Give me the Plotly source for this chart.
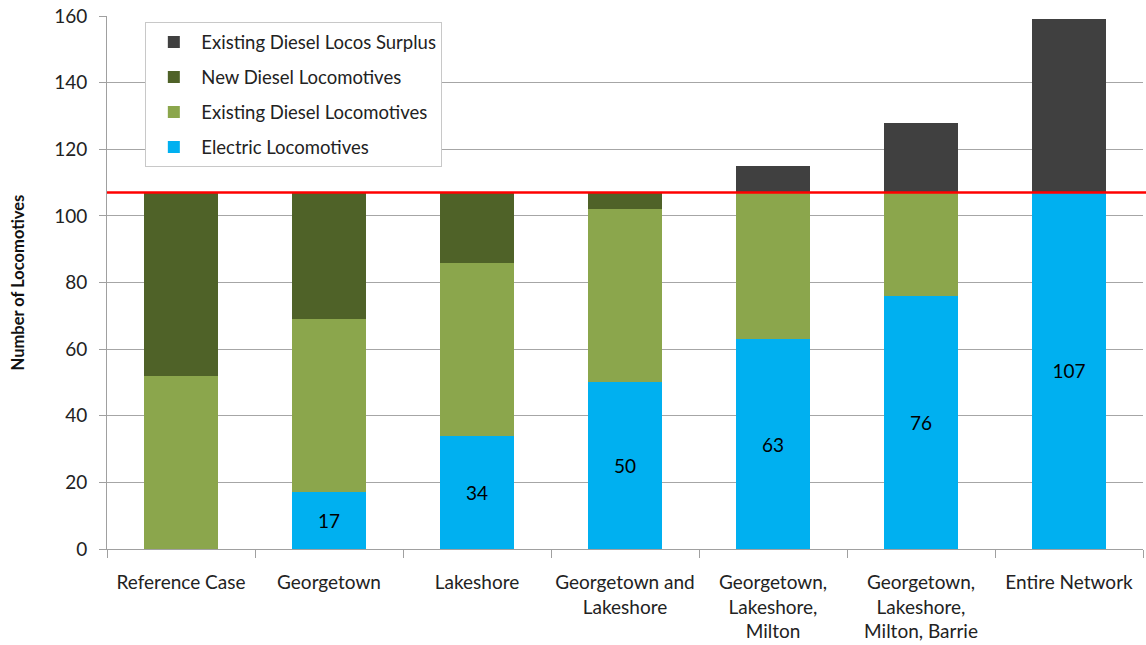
import plotly.graph_objects as go

categories = ["Reference Case", "Georgetown", "Lakeshore", "Georgetown and<br>Lakeshore",
              "Georgetown,<br>Lakeshore,<br>Milton", "Georgetown,<br>Lakeshore,<br>Milton, Barrie",
              "Entire Network"]
electric = [0, 17, 34, 50, 63, 76, 107]
existing_diesel = [52, 52, 52, 52, 44, 31, 0]
new_diesel = [55, 38, 21, 5, 0, 0, 0]
surplus = [0, 0, 0, 0, 8, 21, 52]
fleet_requirement = 107
y_ticks = [0, 20, 40, 60, 80, 100, 120, 140, 160]

FONT = "Lato"
fig = go.Figure()
series = [
    ("Electric Locomotives", electric, "#00B0F0", 4),
    ("Existing Diesel Locomotives", existing_diesel, "#8BA64C", 3),
    ("New Diesel Locomotives", new_diesel, "#4F6228", 2),
    ("Existing Diesel Locos Surplus", surplus, "#404040", 1),
]
for i, (name, vals, col, rank) in enumerate(series):
    txt = [str(v) if (name.startswith("Electric") and v > 0) else "" for v in vals]
    fig.add_trace(go.Bar(
        x=categories, y=vals, name=name, marker=dict(color=col, line=dict(width=0)),
        text=txt, textposition="inside", insidetextanchor="middle",
        textfont=dict(family=FONT, size=19, color="black"),
        width=0.5, legendgroup=str(i), legendrank=rank, hoverinfo="y+name",
    ))

fig.add_shape(type="line", xref="paper", yref="y", x0=0, x1=1.003, y0=fleet_requirement,
              y1=fleet_requirement, line=dict(color="#FF0000", width=2.5), layer="above")

fig.update_layout(
    barmode="stack", width=1146, height=645,
    margin=dict(l=107, r=3, t=16, b=96),
    paper_bgcolor="white", plot_bgcolor="white",
    font=dict(family=FONT, size=19, color="#222222"),
    legend=dict(x=0.037, y=0.988, xanchor="left", yanchor="top",
                bgcolor="white", bordercolor="#C8C8C8", borderwidth=1,
                traceorder="grouped", tracegroupgap=8,
                font=dict(family=FONT, size=18.5, color="#222222"),
                itemwidth=45),
    xaxis=dict(showline=True, linecolor="#A0A0A0", linewidth=1,
               ticks="outside", ticklen=8, tickcolor="#A0A0A0", tickson="boundaries",
               ticklabelstandoff=16, tickangle=0,
               tickfont=dict(family=FONT, size=19, color="#222222")),
    yaxis=dict(range=[0, 160], tickvals=y_ticks, showgrid=True, gridcolor="#A6A6A6", gridwidth=1,
               showline=True, linecolor="#A0A0A0", ticks="outside", ticklen=7, tickcolor="#A0A0A0",
               ticklabelstandoff=8, zeroline=False,
               tickfont=dict(family=FONT, size=19, color="#222222")),
    annotations=[dict(text="<b>Number of Locomotives</b>", xref="paper", yref="paper",
                      x=-0.086, y=0.5, xanchor="center", yanchor="middle", textangle=-90,
                      showarrow=False, font=dict(family=FONT, size=16.5, color="#111111"))],
)
fig.write_html("out.html", config={"displayModeBar": False},
               post_script="document.body.style.margin='0px';")
